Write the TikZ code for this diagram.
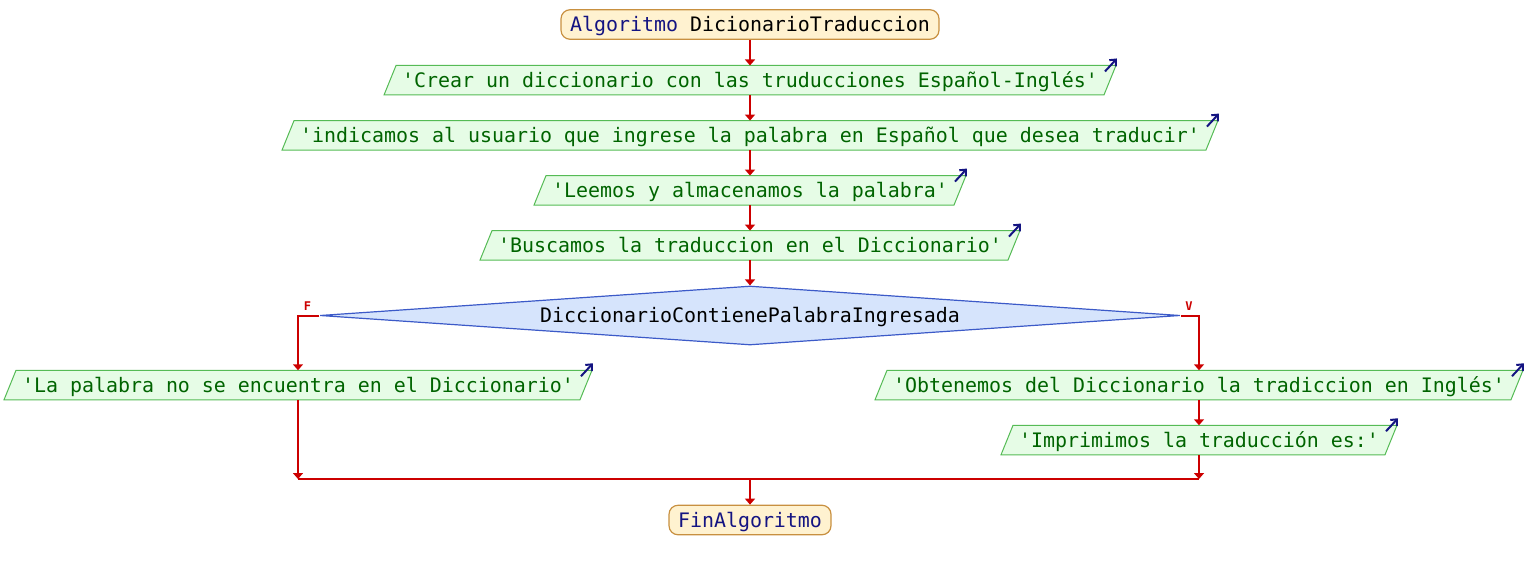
\documentclass[tikz,border=0pt]{standalone}
\usepackage{fontspec}
\newfontfamily\pseint{DejaVu Sans Mono}
\usepackage{xcolor}
\usepackage{tikz}
\usetikzlibrary{positioning}
\usetikzlibrary{shapes.geometric}
\usetikzlibrary{arrows.meta}
\usetikzlibrary{backgrounds}
\definecolor{flechaRoja}{RGB}{204,0,0}
\definecolor{textoVerde}{RGB}{0,100,0}
\definecolor{fondoVerde}{RGB}{230,252,230}
\definecolor{bordeVerde}{RGB}{85,187,85}
\definecolor{fondoAzul}{RGB}{214,228,252}
\definecolor{bordeAzul}{RGB}{60,90,200}
\definecolor{fondoNaranja}{RGB}{255,242,208}
\definecolor{bordeNaranja}{RGB}{200,144,64}
\definecolor{azulOscuro}{RGB}{20,20,130}

\begin{document}
\begin{tikzpicture}[x=1pt,y=-1pt,
  every node/.style={font=\pseint\fontsize{19.93}{24}\selectfont, text height=15.2pt, text depth=0.6pt},
  terminal/.style={draw=bordeNaranja, fill=fondoNaranja, line width=1.2pt, rounded corners=9pt, minimum height=29.5pt, inner xsep=9pt, inner ysep=0pt},
  salida/.style={text=textoVerde, minimum height=29.5pt, inner xsep=12pt, inner ysep=0pt, outer sep=0pt},
  decision/.style={diamond, draw=bordeAzul, fill=fondoAzul, line width=1.2pt, aspect=14.6, minimum width=860pt, minimum height=59pt, inner sep=0pt},
  flujo/.style={flechaRoja, line width=2pt, -{Triangle[length=6pt,width=10pt]}},
  linea/.style={flechaRoja, line width=2pt},
  rama/.style={text=flechaRoja, font=\pseint\bfseries\fontsize{12}{12}\selectfont, text height=9pt, text depth=0pt, inner sep=0pt}
  ]
\useasboundingbox (0,0) rectangle (1530,570);

\node[terminal] (inicio) at (750,24.5) {{\color{azulOscuro}Algoritmo} DicionarioTraduccion};
\node[salida] (crear) at (750,80.2) {'Crear un diccionario con las truducciones Español-Inglés'};
\node[salida] (indicar) at (750,135.3) {'indicamos al usuario que ingrese la palabra en Español que desea traducir'};
\node[salida] (leer) at (750,190.3) {'Leemos y almacenamos la palabra'};
\node[salida] (buscar) at (750,245.3) {'Buscamos la traduccion en el Diccionario'};
\node[decision] (cond) at (750,315.5) {DiccionarioContienePalabraIngresada};
\node[salida] (noEsta) at (298,385) {'La palabra no se encuentra en el Diccionario'};
\node[salida] (obtener) at (1199,385) {'Obtenemos del Diccionario la tradiccion en Inglés'};
\node[salida] (imprimir) at (1199,440) {'Imprimimos la traducción es:'};
\node[terminal, text=azulOscuro] (fin) at (750,520) {FinAlgoritmo};
\coordinate (union) at (750,479);

\node[rama] (etqF) at (307.5,305.7) {F};
\node[rama] (etqV) at (1189,305.7) {V};

% cajas de salida
\begin{scope}[on background layer]
\foreach \caja in {crear,indicar,leer,buscar,noEsta,obtener,imprimir}
  \draw[draw=bordeVerde, fill=fondoVerde, line width=1pt] ([xshift=-6pt]\caja.south west) -- ([xshift=-6pt]\caja.south east) -- ([xshift=6pt]\caja.north east) -- ([xshift=6pt]\caja.north west) -- cycle;
\end{scope}
\foreach \caja in {crear,indicar,leer,buscar,noEsta,obtener,imprimir}
  \draw[azulOscuro, line width=2pt, -{Straight Barb[length=5pt,width=9pt]}] ([shift={(-5,6)}]\caja.north east) -- ([shift={(7,-7)}]\caja.north east);

\draw[flujo] (inicio) -- (crear);
\draw[flujo] (crear) -- (indicar);
\draw[flujo] (indicar) -- (leer);
\draw[flujo] (leer) -- (buscar);
\draw[flujo] (buscar) -- (cond);
\draw[flujo] (cond.west) -| (noEsta.north);
\draw[flujo] (cond.east) -| (obtener.north);
\draw[flujo] (obtener) -- (imprimir);
\draw[flujo] (noEsta.south) -- (noEsta.south |- union);
\draw[flujo] (imprimir.south) -- (imprimir.south |- union);
\draw[linea] (noEsta.south |- union) -- (imprimir.south |- union);
\draw[flujo] (union) -- (fin);
\end{tikzpicture}
\end{document}
